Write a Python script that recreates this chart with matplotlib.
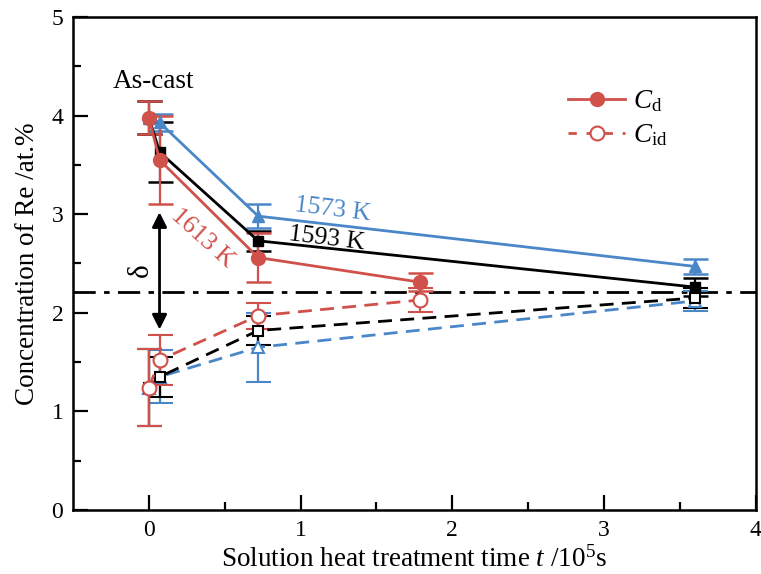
import matplotlib.pyplot as plt
from matplotlib.lines import Line2D

plt.rcParams['font.family'] = 'Liberation Serif'
plt.rcParams['mathtext.fontset'] = 'custom'
plt.rcParams['mathtext.rm'] = 'Liberation Serif'
plt.rcParams['mathtext.it'] = 'Liberation Serif:italic'

red = '#D0504A'
black = '#000000'
blue = '#4A87C8'

# time in 1e5 s, first point = as-cast
t1613 = [0, 0.07, 0.72, 1.79]
t1593 = [0, 0.07, 0.72, 3.60]
t1573 = [0, 0.07, 0.72, 3.60]

# C_d (dendrite core)
cd1613 = [3.98, 3.55, 2.56, 2.31]
cd1613Err = [0.17, 0.45, 0.25, 0.09]
cd1593 = [3.98, 3.63, 2.73, 2.26]
cd1593Err = [0.17, 0.30, 0.10, 0.09]
cd1573 = [3.98, 3.93, 2.98, 2.47]
cd1573Err = [0.17, 0.09, 0.12, 0.08]

# C_id (interdendritic)
cid1613 = [1.24, 1.52, 1.97, 2.13]
cid1613Err = [0.39, 0.25, 0.13, 0.12]
cid1593 = [1.24, 1.35, 1.82, 2.15]
cid1593Err = [0.39, 0.20, 0.15, 0.10]
cid1573 = [1.24, 1.35, 1.65, 2.12]
cid1573Err = [0.39, 0.27, 0.35, 0.10]

equilibrium = 2.21

fig = plt.figure(figsize=(7.61, 5.74), dpi=100)
ax = fig.add_axes([0.096, 0.1115, 0.897, 0.859])

errStyle = dict(capsize=9, elinewidth=1.6, capthick=1.8)

series = [
    (t1573, cd1573, cd1573Err, cid1573, cid1573Err, blue, '^', 9),
    (t1593, cd1593, cd1593Err, cid1593, cid1593Err, black, 's', 7),
    (t1613, cd1613, cd1613Err, cid1613, cid1613Err, red, 'o', 10),
]

for t, cd, cdErr, cid, cidErr, col, mk, ms in series:
    ax.errorbar(t, cid, yerr=cidErr, color=col, ls=(0, (5, 3)), lw=2,
                marker=mk, ms=ms, mfc='white', mec=col, mew=1.5, ecolor=col, **errStyle)
    ax.errorbar(t, cd, yerr=cdErr, color=col, ls='-', lw=2,
                marker=mk, ms=ms, mfc=col, mec=col, ecolor=col, **errStyle)

ax.axhline(equilibrium, color='black', lw=2, ls=(0, (8, 3, 2, 3)), zorder=1)

# delta arrow
ax.annotate('', xy=(0.07, 1.83), xytext=(0.07, 3.02),
            arrowprops=dict(arrowstyle='<|-|>', color='black', lw=2,
                            mutation_scale=22, shrinkA=0, shrinkB=0))
ax.text(-0.05, 2.43, 'δ', rotation=90, fontsize=21, ha='center', va='center')

ax.text(0.03, 4.22, 'As-cast', fontsize=19.5, ha='center', va='bottom')
ax.text(0.95, 2.94, '1573 K', fontsize=18.5, color=blue, rotation=-7)
ax.text(0.91, 2.64, '1593 K', fontsize=18.5, color=black, rotation=-7)
ax.text(0.12, 2.47, '1613 K', fontsize=18.5, color=red, rotation=-42)

handles = [
    Line2D([], [], color=red, lw=2, marker='o', ms=10, mfc=red, mec=red),
    Line2D([], [], color=red, lw=2, ls=(0, (3, 3.5)), marker='o', ms=10, mfc='white', mec=red, mew=1.5),
]
ax.legend(handles, [r'$\it{C}_{\rm d}$', r'$\it{C}_{\rm id}$'], loc='upper left',
          bbox_to_anchor=(0.69, 0.904), frameon=False, fontsize=19.5,
          handlelength=2.1, handletextpad=0.3, labelspacing=0.3)

ax.set_xlim(-0.5, 4)
ax.set_ylim(0, 5)
ax.set_xticks([0, 1, 2, 3, 4])
ax.set_xticks([0.5, 1.5, 2.5, 3.5], minor=True)
ax.set_yticks([0, 1, 2, 3, 4, 5])
ax.set_yticks([0.5, 1.5, 2.5, 3.5, 4.5], minor=True)
ax.tick_params(which='both', direction='in', width=1.6, labelsize=17, pad=7)
ax.tick_params(which='major', length=11)
ax.tick_params(which='minor', length=6)
for sp in ax.spines.values():
    sp.set_linewidth(1.8)

ax.set_xlabel(r'Solution heat treatment time $\it{t}$ /10$^5$s', fontsize=19.5, labelpad=4)
ax.set_ylabel('Concentration of Re /at.%', fontsize=19.5, labelpad=8)

fig.savefig('out.png', dpi=100)
